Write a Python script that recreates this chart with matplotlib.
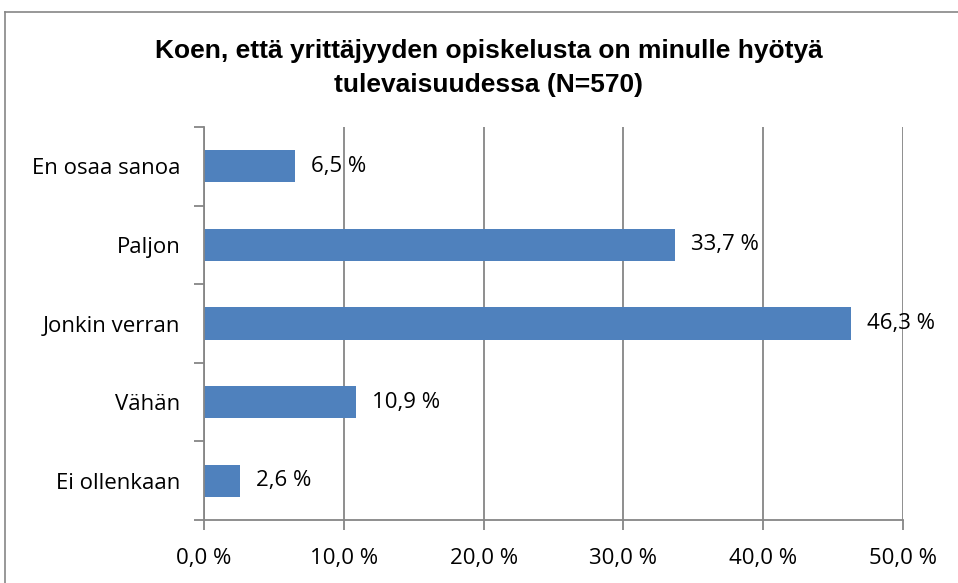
import matplotlib
matplotlib.use("Agg")
import matplotlib.pyplot as plt
from matplotlib.lines import Line2D

categories = ["Ei ollenkaan", "Vähän", "Jonkin verran", "Paljon", "En osaa sanoa"]
values = [2.6, 10.9, 46.3, 33.7, 6.5]
xticks = [0, 10, 20, 30, 40, 50]
title = "Koen, että yrittäjyyden opiskelusta on minulle hyötyä\ntulevaisuudessa (N=570)"

def fmt(v):
    return f"{v:.1f}".replace(".", ",") + " %"

W, H = 958, 583
fig = plt.figure(figsize=(W / 100, H / 100), dpi=100)
fig.patch.set_facecolor("white")

# outer chart border (top and left visible)
fig.add_artist(Line2D([5 / W, 5 / W], [0, 1 - 12 / H], transform=fig.transFigure, color="#868686", lw=1.2))
fig.add_artist(Line2D([5 / W, 1], [1 - 12 / H, 1 - 12 / H], transform=fig.transFigure, color="#868686", lw=1.2))

ax = fig.add_axes([204 / W, 1 - 520 / H, (903 - 204) / W, (520 - 127) / H])
ax.set_xlim(0, 50)
ax.set_ylim(-0.5, len(categories) - 0.5)

ax.barh(range(len(categories)), values, height=0.41, color="#4F81BD", zorder=3)

font = "Open Sans"
fs = 16
for i, v in enumerate(values):
    ax.text(v + 1.15, i, fmt(v), va="center", ha="left", fontsize=fs, family=font, color="black", zorder=4)

ax.set_xticks(xticks)
ax.set_xticklabels([fmt(t) for t in xticks], fontsize=fs, family=font)
ax.set_yticks(range(len(categories)))
ax.set_yticklabels(categories, fontsize=fs, family=font)
ax.set_yticks([i - 0.5 for i in range(len(categories) + 1)], minor=True)

ax.grid(axis="x", color="#868686", lw=1.3, zorder=0)
for s in ["top", "right"]:
    ax.spines[s].set_visible(False)
for s in ["left", "bottom"]:
    ax.spines[s].set_color("#868686")
    ax.spines[s].set_linewidth(1.3)
    ax.spines[s].set_zorder(5)

ax.tick_params(axis="y", which="major", length=0, pad=17)
ax.tick_params(axis="y", which="minor", length=7, width=1.3, color="#868686", direction="out")
ax.tick_params(axis="x", which="major", length=7, width=1.3, color="#868686", direction="out", pad=13)

fig.text(489 / W, 1 - 68 / H, title, ha="center", va="center",
         fontsize=19, fontweight="bold", family="Liberation Sans", linespacing=1.55)

fig.savefig("out.png", dpi=100, facecolor="white")
